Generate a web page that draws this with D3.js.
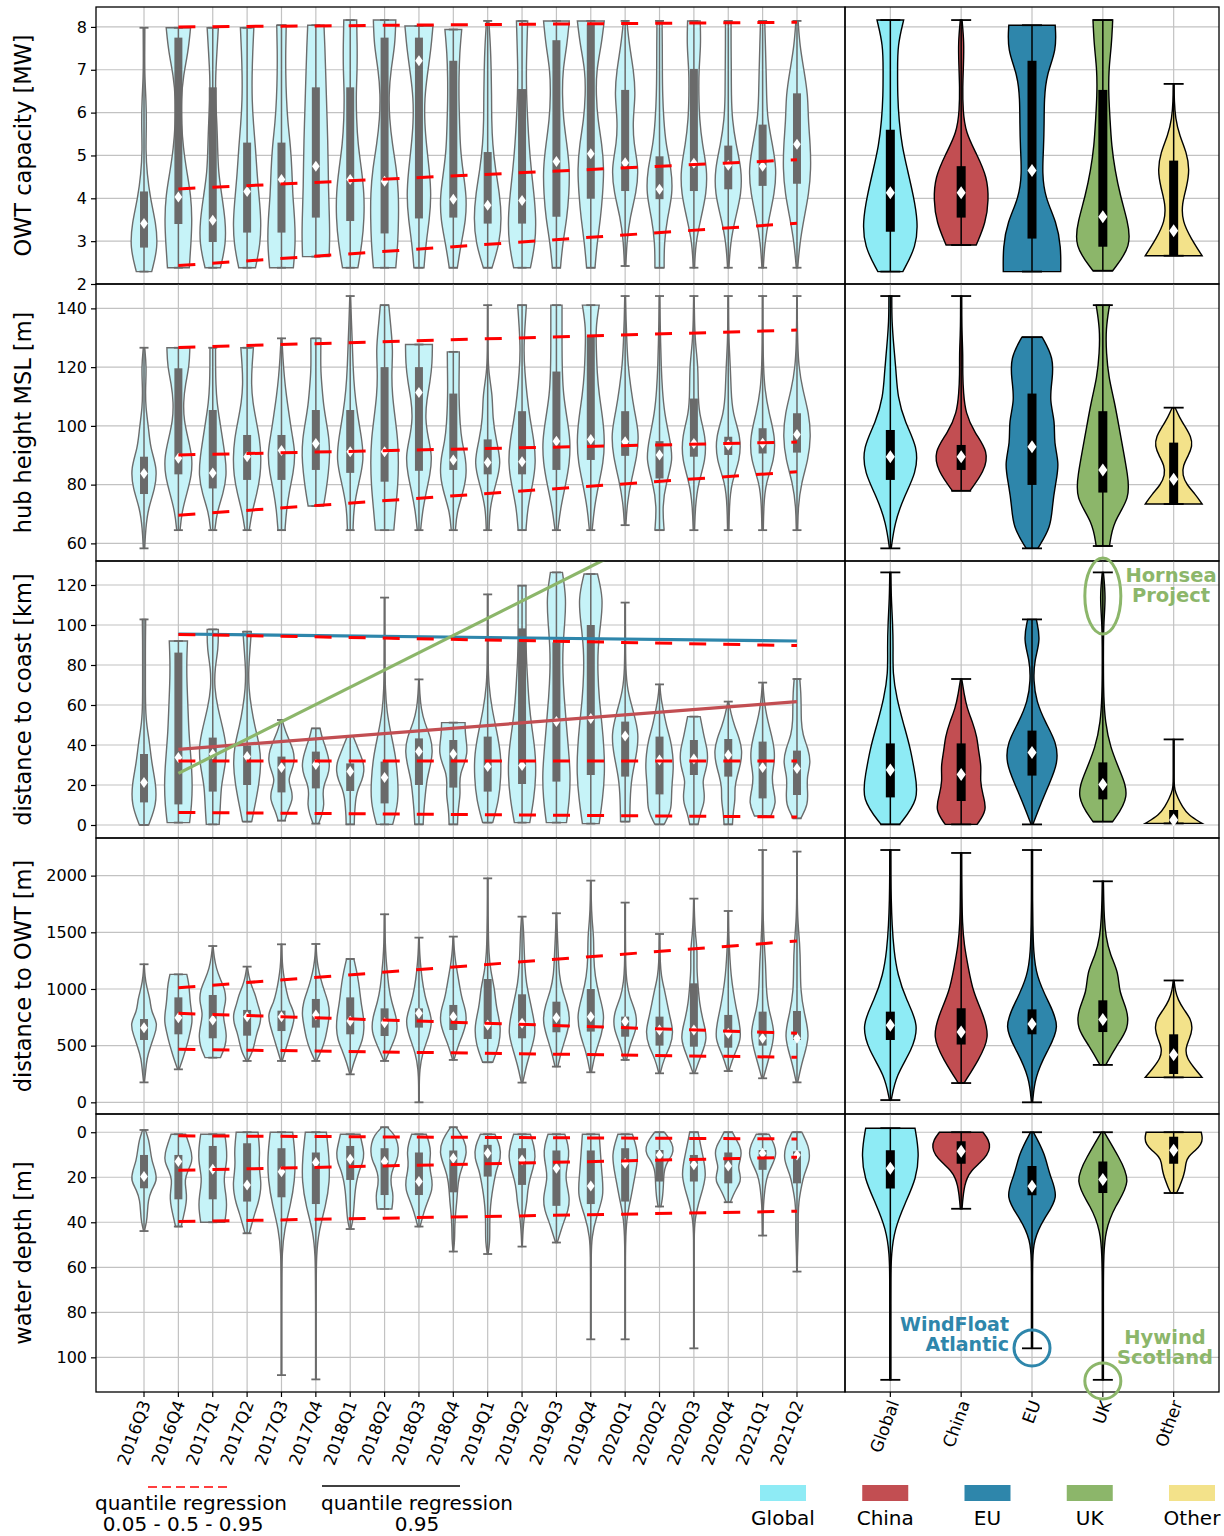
<!DOCTYPE html>
<html>
<head>
<meta charset="utf-8">
<script src="https://cdn.jsdelivr.net/npm/d3@7"></script>
<style>
  body { margin: 0; background: #fff; }
  svg { font-family: "DejaVu Sans", sans-serif; }
</style>
</head>
<body>
<svg id="chart" width="1224" height="1536"></svg>
<script>
// ---------------------------------------------------------------
// Categories
// ---------------------------------------------------------------
const quarters = ['2016Q3','2016Q4','2017Q1','2017Q2','2017Q3','2017Q4','2018Q1','2018Q2',
  '2018Q3','2018Q4','2019Q1','2019Q2','2019Q3','2019Q4','2020Q1','2020Q2','2020Q3','2020Q4',
  '2021Q1','2021Q2'];
const regions = ['Global','China','EU','UK','Other'];
const regionColors = ['#8eebf5','#c24e52','#2e86ab','#8cb66a','#f3e28a'];

// Each violin: [min, max, q1, median, q3, density profile sampled evenly from min to max]
const capacityByQuarter = [
  [2.29,7.98,2.85,3.41,4.16,[0.55,1.0,0.85,0.45,0.22,0.12,0.18,0.15,0.05,0.05,0.06]],
  [2.38,7.98,3.40,4.03,7.75,[0.78,0.9,0.98,0.9,0.6,0.35,0.22,0.2,0.35,0.7,0.87]],
  [2.38,7.98,2.98,3.49,6.59,[0.55,0.95,0.9,0.65,0.4,0.35,0.3,0.2,0.2,0.3,0.4]],
  [2.38,7.98,3.20,4.16,5.30,[0.6,0.95,1.0,0.85,0.7,0.6,0.45,0.35,0.35,0.4,0.48]],
  [2.38,8.04,3.20,4.44,5.30,[0.85,1.0,0.95,0.8,0.75,0.65,0.45,0.35,0.3,0.3,0.34]],
  [2.64,8.04,3.55,4.75,6.59,[0.95,1.0,0.95,0.9,0.88,0.85,0.8,0.75,0.7,0.65,0.58]],
  [2.38,8.16,3.47,4.44,6.59,[0.55,0.85,1.0,1.0,0.8,0.55,0.45,0.42,0.5,0.5,0.46]],
  [2.38,8.16,3.18,4.40,7.75,[0.8,0.95,1.0,1.0,0.85,0.55,0.35,0.3,0.45,0.75,0.8]],
  [2.38,8.02,3.53,7.21,7.75,[0.36,0.5,0.75,0.88,0.75,0.55,0.4,0.4,0.6,0.85,1.0]],
  [2.38,7.94,3.55,3.98,7.21,[0.29,0.55,0.9,0.95,0.7,0.5,0.45,0.4,0.4,0.45,0.6]],
  [2.38,8.14,3.41,3.84,5.08,[0.31,0.85,1.0,0.85,0.55,0.35,0.28,0.28,0.25,0.2,0.08]],
  [2.38,8.14,3.41,3.95,6.55,[0.6,0.95,1.0,0.85,0.65,0.5,0.4,0.32,0.3,0.35,0.4]],
  [2.38,8.14,3.57,4.86,7.69,[0.29,0.45,0.75,0.9,0.95,0.75,0.5,0.42,0.45,0.75,0.92]],
  [2.38,8.14,3.99,5.04,8.06,[0.3,0.45,0.7,0.85,0.95,0.8,0.5,0.38,0.4,0.75,0.96]],
  [2.42,8.14,4.17,4.83,6.53,[0.05,0.12,0.35,0.8,0.98,0.6,0.55,0.75,0.6,0.3,0.12]],
  [2.38,8.14,3.98,4.21,4.98,[0.33,0.33,0.55,0.95,0.85,0.45,0.3,0.22,0.2,0.2,0.18]],
  [2.38,8.14,4.17,4.82,7.02,[0.05,0.12,0.5,0.9,0.95,0.6,0.4,0.35,0.35,0.5,0.45]],
  [2.38,8.14,4.21,4.77,5.23,[0.05,0.15,0.5,0.95,0.95,0.55,0.28,0.22,0.22,0.2,0.2]],
  [2.38,8.14,4.29,4.75,5.72,[0.05,0.15,0.45,0.85,1.0,0.7,0.35,0.28,0.25,0.2,0.15]],
  [2.38,8.14,4.34,5.26,6.45,[0.05,0.2,0.5,0.85,1.0,0.95,0.8,0.78,0.5,0.2,0.08]]
];
const capacityByRegion = [
  [2.29,8.16,3.22,4.13,5.60,[0.43,0.9,0.95,0.8,0.6,0.4,0.3,0.25,0.25,0.25,0.46]],
  [2.91,8.16,3.55,4.13,4.75,[0.52,0.85,0.95,0.9,0.55,0.15,0.06,0.05,0.08,0.1,0.03]],
  [2.29,8.04,3.06,4.65,7.21,[0.99,1.0,0.85,0.45,0.35,0.4,0.42,0.42,0.5,0.85,0.8]],
  [2.31,8.16,2.87,3.57,6.53,[0.34,1.0,0.85,0.6,0.42,0.3,0.25,0.2,0.2,0.3,0.34]],
  [2.66,6.67,2.66,3.24,4.88,[0.98,0.6,0.3,0.28,0.45,0.55,0.45,0.2,0.06,0.02,0.0]]
];

const hubByQuarter = [
  [58.3,126.6,76.8,83.8,89.5,[0.05,0.12,0.3,0.8,0.95,0.45,0.33,0.12,0.1,0.18,0.05]],
  [64.5,126.6,83.5,89.0,119.6,[0.12,0.25,0.6,0.95,1.0,0.7,0.4,0.35,0.5,0.78,0.82]],
  [64.5,126.6,78.7,84.0,105.4,[0.15,0.3,0.75,1.0,0.9,0.7,0.5,0.3,0.22,0.2,0.2]],
  [64.5,126.6,81.6,89.5,96.9,[0.15,0.35,0.7,0.95,1.0,0.9,0.65,0.4,0.3,0.35,0.45]],
  [64.5,129.8,81.6,91.6,96.9,[0.25,0.35,0.55,0.85,1.0,0.75,0.55,0.35,0.2,0.1,0.03]],
  [72.7,129.8,85.0,94.0,105.4,[0.55,0.75,0.9,1.0,0.95,0.75,0.55,0.45,0.35,0.35,0.36]],
  [64.5,144.2,84.0,91.2,105.4,[0.2,0.25,0.6,1.0,0.8,0.5,0.3,0.2,0.15,0.08,0.03]],
  [64.5,141.1,81.0,91.2,120.0,[0.66,0.8,0.95,1.0,0.95,0.75,0.55,0.5,0.6,0.45,0.3]],
  [64.5,127.7,84.7,111.4,120.0,[0.12,0.25,0.5,0.8,0.95,0.65,0.45,0.55,0.8,0.95,0.96]],
  [64.5,125.2,85.0,88.4,111.0,[0.15,0.25,0.65,0.95,0.9,0.6,0.48,0.42,0.4,0.42,0.43]],
  [64.5,141.1,83.5,87.5,95.4,[0.1,0.15,0.55,1.0,0.6,0.35,0.35,0.06,0.02,0.02,0.01]],
  [64.5,141.1,83.5,87.8,105.0,[0.28,0.4,0.75,1.0,0.85,0.55,0.35,0.2,0.12,0.2,0.31]],
  [64.5,141.1,85.0,94.8,118.5,[0.1,0.3,0.65,0.95,1.0,0.75,0.5,0.42,0.4,0.4,0.4]],
  [64.5,141.1,88.4,95.4,130.6,[0.1,0.25,0.55,0.9,1.0,0.85,0.6,0.45,0.4,0.35,0.6]],
  [66.2,144.2,89.8,94.6,105.0,[0.05,0.15,0.45,0.85,1.0,0.65,0.4,0.2,0.12,0.06,0.03]],
  [64.5,144.2,82.1,90.1,94.8,[0.33,0.2,0.45,1.0,0.7,0.35,0.2,0.12,0.08,0.04,0.02]],
  [64.5,144.2,89.5,94.0,109.3,[0.05,0.1,0.3,0.85,0.85,0.35,0.3,0.3,0.1,0.04,0.02]],
  [64.5,144.2,90.1,93.5,96.3,[0.05,0.08,0.2,0.85,0.9,0.3,0.2,0.15,0.05,0.03,0.02]],
  [64.5,144.2,90.6,94.1,99.2,[0.05,0.08,0.2,0.85,0.9,0.45,0.15,0.06,0.03,0.02,0.02]],
  [64.5,144.2,90.9,97.1,104.3,[0.05,0.08,0.3,0.8,1.0,0.85,0.4,0.12,0.05,0.02,0.02]]
];
const hubByRegion = [
  [58.3,144.2,81.6,89.5,98.6,[0.03,0.15,0.45,0.9,0.95,0.5,0.25,0.2,0.12,0.05,0.05]],
  [77.9,144.2,85.0,89.5,93.5,[0.3,0.8,0.95,0.45,0.15,0.08,0.05,0.06,0.03,0.02,0.02]],
  [58.3,130.2,79.9,92.9,111.0,[0.2,0.65,0.7,0.8,0.95,0.75,0.8,0.6,0.7,0.75,0.35]],
  [59.1,141.1,77.3,85.0,105.0,[0.23,0.35,0.95,0.85,0.7,0.55,0.4,0.2,0.12,0.1,0.23]],
  [73.4,106.2,73.4,81.8,94.3,[0.98,0.75,0.45,0.3,0.32,0.5,0.65,0.6,0.4,0.2,0.05]]
];

const coastByQuarter = [
  [0,102.8,11.3,21.3,35.5,[0.33,0.9,0.85,0.55,0.4,0.15,0.1,0.1,0.1,0.1,0.12]],
  [1.2,92.0,10.3,33.8,86.2,[0.8,0.95,1.0,0.95,0.85,0.75,0.7,0.65,0.6,0.6,0.65]],
  [0.3,97.8,16.7,35.5,43.7,[0.46,0.55,0.6,0.9,1.0,0.7,0.35,0.12,0.15,0.4,0.4]],
  [1.7,96.7,20.0,34.2,39.7,[0.33,0.6,0.85,1.0,0.9,0.55,0.3,0.12,0.1,0.2,0.3]],
  [2.2,52.5,16.3,28.8,34.2,[0.24,0.45,0.8,0.75,0.45,0.75,0.95,0.85,0.55,0.25,0.05]],
  [0.7,48.3,18.3,30.3,36.7,[0.2,0.45,0.6,0.5,0.55,0.85,1.0,0.9,0.7,0.45,0.3]],
  [0.3,44.5,17.0,26.7,30.8,[0.29,0.3,0.35,0.4,0.55,0.85,1.0,0.95,0.7,0.45,0.2]],
  [0.3,113.7,10.8,23.7,31.7,[0.58,1.0,0.95,0.8,0.45,0.15,0.05,0.03,0.03,0.02,0.02]],
  [0.3,72.8,20.0,36.7,43.3,[0.3,0.35,0.45,0.55,0.8,1.0,0.85,0.4,0.15,0.06,0.02]],
  [0.3,51.2,18.7,35.5,42.5,[0.3,0.32,0.4,0.5,0.45,0.5,0.8,1.0,0.95,0.85,0.84]],
  [1.2,115.3,16.7,29.2,44.2,[0.36,0.8,0.95,0.95,0.65,0.3,0.08,0.03,0.03,0.02,0.02]],
  [1.2,119.7,20.5,29.7,98.3,[0.55,0.85,1.0,0.95,0.7,0.5,0.4,0.3,0.28,0.28,0.28]],
  [1.2,126.3,21.7,51.7,91.3,[0.72,0.95,1.0,0.85,0.7,0.55,0.45,0.45,0.6,0.7,0.43]],
  [0.7,125.5,25.0,53.3,100.0,[0.6,0.85,1.0,0.95,0.8,0.6,0.5,0.5,0.7,0.9,0.48]],
  [1.7,111.2,24.2,44.5,51.7,[0.33,0.35,0.45,0.8,1.0,0.6,0.15,0.04,0.03,0.02,0.02]],
  [0.3,70.3,15.3,32.5,44.2,[0.33,0.85,0.85,0.9,1.0,0.95,0.8,0.5,0.3,0.1,0.02]],
  [0.3,54.2,25.0,33.0,42.5,[0.3,0.45,0.75,0.75,0.6,0.85,1.0,0.95,0.75,0.6,0.45]],
  [0.3,61.7,24.2,35.0,43.0,[0.3,0.35,0.5,0.45,0.65,0.9,1.0,0.8,0.45,0.2,0.03]],
  [4.5,71.2,13.3,28.8,41.7,[0.58,1.0,0.75,0.65,0.85,0.85,0.65,0.4,0.2,0.08,0.02]],
  [3.3,73.0,15.0,28.3,37.2,[0.27,0.8,0.75,0.7,1.0,0.8,0.4,0.3,0.3,0.28,0.2]]
];
const coastByRegion = [
  [0.3,126.3,13.8,27.5,40.8,[0.32,1.0,0.85,0.7,0.45,0.22,0.08,0.1,0.08,0.03,0.02]],
  [0.3,73.0,12.0,25.3,40.8,[0.55,0.9,0.75,0.65,0.7,0.6,0.55,0.4,0.2,0.1,0.02]],
  [0.3,102.8,24.7,36.2,47.2,[0.03,0.3,0.6,0.9,0.85,0.45,0.15,0.05,0.08,0.3,0.15]],
  [1.7,126.3,12.8,20.3,31.3,[0.34,0.95,0.6,0.25,0.08,0.03,0.02,0.02,0.03,0.1,0.02]],
  [0.8,42.8,0.8,2.5,7.5,[0.98,0.5,0.3,0.15,0.03,0.01,0,0,0,0,0]]
];

const owtByQuarter = [
  [176,1218,550,659,735,[0.03,0.12,0.2,0.45,0.75,1.0,0.5,0.45,0.2,0.06,0.02]],
  [291,1129,600,747,926,[0.05,0.3,0.5,0.7,0.85,1.0,0.95,0.85,0.8,0.75,0.6]],
  [394,1379,565,726,947,[0.55,0.9,1.0,0.85,0.7,0.95,0.9,0.55,0.25,0.1,0.02]],
  [365,1197,588,756,815,[0.05,0.4,0.55,0.7,0.95,1.0,0.75,0.6,0.3,0.12,0.02]],
  [365,1394,629,756,809,[0.05,0.3,0.55,0.8,1.0,0.55,0.35,0.2,0.08,0.04,0.02]],
  [365,1397,659,771,912,[0.05,0.45,0.7,0.85,1.0,0.9,0.6,0.35,0.15,0.05,0.02]],
  [247,1265,600,718,926,[0.03,0.25,0.55,0.9,1.0,0.95,0.8,0.7,0.6,0.45,0.26]],
  [365,1659,585,703,829,[0.05,0.5,0.95,0.85,0.5,0.3,0.2,0.1,0.05,0.03,0.02]],
  [0,1453,659,785,829,[0.02,0.02,0.05,0.25,0.7,1.0,0.55,0.3,0.15,0.05,0.02]],
  [374,1462,638,756,859,[0.05,0.3,0.65,0.95,0.9,0.6,0.45,0.3,0.15,0.06,0.02]],
  [353,1976,559,682,1088,[0.36,0.85,0.95,0.6,0.5,0.2,0.08,0.05,0.03,0.02,0.02]],
  [174,1638,565,697,953,[0.05,0.3,0.65,1.0,0.8,0.55,0.3,0.2,0.15,0.12,0.04]],
  [315,1668,618,747,888,[0.1,0.35,0.7,1.0,0.8,0.4,0.2,0.15,0.1,0.05,0.02]],
  [265,1956,624,756,1000,[0.05,0.3,0.8,1.0,0.6,0.3,0.2,0.22,0.08,0.03,0.02]],
  [374,1762,579,712,756,[0.1,0.35,0.85,0.8,0.3,0.1,0.04,0.03,0.02,0.02,0.02]],
  [256,1485,500,638,756,[0.05,0.3,0.8,1.0,0.75,0.55,0.35,0.12,0.05,0.03,0.02]],
  [256,1797,491,638,1050,[0.05,0.5,1.0,0.65,0.4,0.3,0.2,0.25,0.1,0.04,0.02]],
  [276,1688,482,609,771,[0.05,0.4,0.95,0.8,0.55,0.35,0.2,0.12,0.06,0.03,0.02]],
  [212,2226,500,565,800,[0.05,0.5,0.95,0.4,0.25,0.22,0.1,0.04,0.02,0.02,0.02]],
  [176,2212,550,565,806,[0.05,0.4,0.95,0.5,0.25,0.25,0.2,0.05,0.02,0.02,0.02]]
];
const owtByRegion = [
  [20,2226,550,680,800,[0.03,0.2,0.75,1.0,0.55,0.25,0.12,0.06,0.03,0.02,0.02]],
  [170,2200,510,620,830,[0.1,0.6,1.0,0.75,0.4,0.25,0.1,0.04,0.03,0.02,0.02]],
  [0,2226,600,690,820,[0.02,0.1,0.5,1.0,0.55,0.15,0.05,0.03,0.02,0.02,0.02]],
  [330,1950,620,730,900,[0.1,0.45,0.9,0.85,0.55,0.55,0.25,0.1,0.05,0.03,0.02]],
  [220,1075,250,420,600,[0.98,0.7,0.45,0.4,0.55,0.65,0.6,0.35,0.15,0.05,0.0]]
];

const depthByQuarter = [
  [-1,43.9,10.1,19.7,24.9,[0.1,0.35,0.45,0.55,0.8,0.95,0.5,0.3,0.25,0.2,0.03]],
  [0.9,41.9,10.1,13.0,29.8,[0.52,0.75,0.95,1.0,0.65,0.45,0.55,0.6,0.5,0.35,0.2]],
  [0.9,40.0,6.1,16.4,29.8,[0.86,0.95,1.0,1.0,0.9,0.8,0.85,0.95,1.0,0.95,0.86]],
  [0,44.9,4.9,23.4,30.8,[0.78,0.85,0.9,0.85,0.9,1.0,0.95,0.8,0.55,0.35,0.15]],
  [0,107.9,7.1,17.5,28.9,[0.8,1.0,0.95,0.65,0.2,0.04,0.03,0.02,0.02,0.02,0.02]],
  [0,109.8,9.0,13.5,31.9,[0.75,0.95,1.0,0.7,0.2,0.04,0.03,0.02,0.02,0.02,0.02]],
  [0.9,43.0,6.1,12.0,21.2,[0.7,0.85,1.0,0.9,0.6,0.45,0.35,0.3,0.25,0.2,0.05]],
  [-2.2,34.1,7.1,13.0,27.9,[0.2,0.75,0.95,1.0,0.9,0.6,0.45,0.45,0.6,0.6,0.52]],
  [0.9,41.9,9.0,21.9,27.9,[0.52,0.75,0.85,0.75,0.8,0.95,0.95,0.7,0.45,0.25,0.08]],
  [-2.2,53.0,8.1,11.6,26.7,[0.2,0.8,1.0,0.7,0.4,0.3,0.25,0.15,0.1,0.1,0.02]],
  [0.9,54.1,5.6,9.3,19.7,[0.52,0.9,0.95,0.6,0.45,0.3,0.2,0.15,0.15,0.15,0.03]],
  [0.9,50.8,7.1,12.3,23.4,[0.6,0.85,0.97,0.8,0.55,0.4,0.35,0.2,0.1,0.05,0.02]],
  [0.9,49.0,8.1,16.0,32.7,[0.6,0.85,0.9,0.75,0.65,0.8,0.95,0.85,0.55,0.3,0.06]],
  [0.9,92.0,8.1,23.9,31.9,[0.6,0.7,0.8,0.95,0.4,0.06,0.03,0.02,0.02,0.02,0.02]],
  [0.9,92.0,7.1,13.8,30.8,[0.52,1.0,0.7,0.45,0.12,0.04,0.02,0.02,0.02,0.02,0.02]],
  [0,33.0,7.9,10.1,21.9,[0.35,0.75,1.0,0.95,0.55,0.35,0.3,0.28,0.25,0.2,0.1]],
  [0,96.0,10.1,14.5,21.9,[0.3,0.6,0.95,0.45,0.05,0.02,0.02,0.02,0.02,0.02,0.02]],
  [0,31.1,9.0,15.0,22.7,[0.3,0.55,0.85,0.95,0.85,0.7,0.85,0.9,0.6,0.35,0.15]],
  [0.9,45.9,7.9,9.3,16.7,[0.45,0.85,1.0,0.7,0.35,0.2,0.12,0.06,0.04,0.03,0.02]],
  [0,61.9,8.5,10.1,22.7,[0.35,0.85,0.95,0.5,0.3,0.12,0.08,0.1,0.06,0.03,0.02]]
];
const depthByRegion = [
  [-1.8,110,8,16,25,[0.85,1.0,0.9,0.5,0.15,0.03,0.02,0.02,0.02,0.02,0.02]],
  [0,34,4,8.5,14,[0.75,0.95,1.0,0.9,0.65,0.35,0.2,0.12,0.08,0.05,0.03]],
  [0,96,15,24,28,[0.05,0.45,0.6,0.95,0.4,0.05,0.02,0.02,0.02,0.02,0.02]],
  [0,110,13,21,27,[0.05,0.55,1.0,0.4,0.08,0.03,0.02,0.02,0.02,0.02,0.02]],
  [0,27,2,8,14,[0.95,1.0,0.95,0.75,0.5,0.42,0.4,0.35,0.28,0.2,0.1]]
];

// Quantile regression lines (0.05, 0.5, 0.95): value at 2016Q4 and at 2021Q2
const capacityTrend = [[2.43,3.42],[4.22,4.90],[8.00,8.11]];
const hubTrend = [[69.6,84.4],[90.1,94.5],[126.7,132.6]];
const coastTrend = [[6.3,4.0],[32.0,32.0],[95.3,89.7]];
const owtTrend = [[468,397],[785,609],[1011,1423]];
const depthTrend = [[1.6,3.0],[16.9,11.1],[39.7,35.1]];
// 0.95 quantile regression per region for distance to coast: [region, 2016Q4, 2021Q2]
const coastRegionTrend = [['EU',95.5,92.0],['China',37.8,61.7],['UK',25.8,181.0]];

// Tick values
const capacityTicks = [2,3,4,5,6,7,8];
const hubTicks = [60,80,100,120,140];
const coastTicks = [0,20,40,60,80,100,120];
const owtTicks = [0,500,1000,1500,2000];
const depthTicks = [0,20,40,60,80,100];

// ---------------------------------------------------------------
// Layout
// ---------------------------------------------------------------
const svg = d3.select('#chart');
const X0 = 96, X1 = 845, X2 = 1219;
const xQ = d3.scalePoint().domain(quarters).range([X0, X1]).padding(1.397);
const xR = d3.scalePoint().domain(regions).range([X1, X2]).padding(0.64);

const rows = [
  {top:7, bottom:284, domain:[2,8.465], ticks:capacityTicks, label:'OWT capacity [MW]',
   q:capacityByQuarter, r:capacityByRegion, trend:capacityTrend},
  {top:284, bottom:561, domain:[54,148.3], ticks:hubTicks, label:'hub height MSL [m]',
   q:hubByQuarter, r:hubByRegion, trend:hubTrend},
  {top:561, bottom:838, domain:[-6.5,132], ticks:coastTicks, label:'distance to coast [km]',
   q:coastByQuarter, r:coastByRegion, trend:coastTrend},
  {top:838, bottom:1114, domain:[-103,2332], ticks:owtTicks, label:'distance to OWT [m]',
   q:owtByQuarter, r:owtByRegion, trend:owtTrend},
  {top:1114, bottom:1392, domain:[-8.1,115.4], ticks:depthTicks, label:'water depth [m]',
   q:depthByQuarter, r:depthByRegion, trend:depthTrend, invert:true}
];

const GRID = '#c2c2c2';
const defs = svg.append('defs');

function violinArea(cx, half, y, d) {
  const [lo, hi, , , , prof] = d;
  const n = prof.length;
  const pts = prof.map((w, i) => ({ v: lo + (hi - lo) * i / (n - 1), w: Math.max(w, 0.015) }));
  return d3.area().curve(d3.curveBasis)
    .y(p => y(p.v)).x0(p => cx - p.w * half).x1(p => cx + p.w * half)(pts);
}

function drawViolin(g, cx, y, d, st) {
  const [lo, hi, q1, med, q3] = d;
  g.append('path').attr('d', violinArea(cx, st.half, y, d))
    .attr('fill', st.fill).attr('stroke', st.edge).attr('stroke-width', 1.4);
  g.append('line').attr('x1', cx).attr('x2', cx).attr('y1', y(lo)).attr('y2', y(hi))
    .attr('stroke', st.line).attr('stroke-width', 1.5);
  [lo, hi].forEach(v => g.append('line')
    .attr('x1', cx - st.cap).attr('x2', cx + st.cap).attr('y1', y(v)).attr('y2', y(v))
    .attr('stroke', st.line).attr('stroke-width', 1.8));
  const yA = y(q1), yB = y(q3);
  g.append('rect').attr('x', cx - st.box / 2).attr('width', st.box)
    .attr('y', Math.min(yA, yB)).attr('height', Math.abs(yA - yB))
    .attr('fill', st.boxFill);
  const ym = y(med);
  g.append('path')
    .attr('d', `M${cx},${ym - st.dia} L${cx + st.dia * 0.7},${ym} L${cx},${ym + st.dia} L${cx - st.dia * 0.7},${ym} Z`)
    .attr('fill', '#fff');
}

rows.forEach((row, ri) => {
  const y = d3.scaleLinear().domain(row.domain)
    .range(row.invert ? [row.top, row.bottom] : [row.bottom, row.top]);
  const g = svg.append('g');

  const clipId = 'clip' + ri;
  defs.append('clipPath').attr('id', clipId).append('rect')
    .attr('x', X0).attr('y', row.top).attr('width', X1 - X0).attr('height', row.bottom - row.top);

  // grid
  const grid = g.append('g').attr('stroke', GRID).attr('stroke-width', 1.2);
  row.ticks.forEach(t => {
    grid.append('line').attr('x1', X0).attr('x2', X2).attr('y1', y(t)).attr('y2', y(t));
  });
  quarters.forEach(q => grid.append('line').attr('x1', xQ(q)).attr('x2', xQ(q))
    .attr('y1', row.top).attr('y2', row.bottom));
  regions.forEach(r => grid.append('line').attr('x1', xR(r)).attr('x2', xR(r))
    .attr('y1', row.top).attr('y2', row.bottom));

  // quarterly violins
  const leftStyle = { half: 14, fill: '#c6f3f8', edge: '#6c6c6c', line: '#6a6a6a',
    boxFill: '#6a6a6a', box: 8, cap: 4.5, dia: 5.5 };
  const gl = g.append('g').attr('clip-path', `url(#${clipId})`);
  row.q.forEach((d, i) => drawViolin(gl, xQ(quarters[i]), y, d, leftStyle));

  // regional violins
  row.r.forEach((d, i) => drawViolin(g, xR(regions[i]), y, d,
    { half: 29, fill: regionColors[i], edge: '#000', line: '#000', boxFill: '#000',
      box: 9, cap: 10, dia: 6.5 }));

  // regional 0.95 regression lines (distance to coast)
  if (ri === 2) {
    const lc = { EU: regionColors[2], China: regionColors[1], UK: regionColors[3] };
    coastRegionTrend.forEach(([name, a, b]) => {
      gl.append('line').attr('x1', xQ(quarters[1])).attr('x2', xQ(quarters[19]))
        .attr('y1', y(a)).attr('y2', y(b))
        .attr('stroke', lc[name]).attr('stroke-width', 3.2);
    });
  }

  // quantile regression (dashed red)
  row.trend.forEach(([a, b]) => {
    gl.append('line').attr('x1', xQ(quarters[1])).attr('x2', xQ(quarters[19]))
      .attr('y1', y(a)).attr('y2', y(b))
      .attr('stroke', '#ff0000').attr('stroke-width', 3)
      .attr('stroke-dasharray', '17,17.06');
  });

  // frames
  g.append('rect').attr('x', X0).attr('y', row.top).attr('width', X1 - X0)
    .attr('height', row.bottom - row.top).attr('fill', 'none').attr('stroke', '#000').attr('stroke-width', 1.3);
  g.append('rect').attr('x', X1).attr('y', row.top).attr('width', X2 - X1)
    .attr('height', row.bottom - row.top).attr('fill', 'none').attr('stroke', '#000').attr('stroke-width', 1.3);

  // y axis
  const ax = g.append('g').attr('transform', `translate(${X0},0)`)
    .call(d3.axisLeft(y).tickValues(row.ticks).tickSize(5).tickPadding(4).tickFormat(d3.format('d')));
  ax.select('.domain').remove();
  ax.selectAll('text').attr('font-size', 16).attr('font-family', '"DejaVu Sans", sans-serif').attr('fill', '#000');
  ax.selectAll('line').attr('stroke', '#000').attr('stroke-width', 1.2);

  svg.append('text').attr('transform', `translate(31,${(row.top + row.bottom) / 2}) rotate(-90)`)
    .attr('text-anchor', 'middle').attr('font-size', 22.5).text(row.label);
});

// x tick marks and rotated labels
const yAxisBottom = 1392;
quarters.forEach(q => {
  svg.append('line').attr('x1', xQ(q)).attr('x2', xQ(q)).attr('y1', yAxisBottom).attr('y2', yAxisBottom + 5)
    .attr('stroke', '#000').attr('stroke-width', 1.2);
  svg.append('text').attr('transform', `translate(${xQ(q) + 7},${yAxisBottom + 11}) rotate(-70)`)
    .attr('text-anchor', 'end').attr('font-size', 17).text(q);
});
regions.forEach(r => {
  svg.append('line').attr('x1', xR(r)).attr('x2', xR(r)).attr('y1', yAxisBottom).attr('y2', yAxisBottom + 5)
    .attr('stroke', '#000').attr('stroke-width', 1.2);
  svg.append('text').attr('transform', `translate(${xR(r) + 9},${yAxisBottom + 11}) rotate(-70)`)
    .attr('text-anchor', 'end').attr('font-size', 17).text(r);
});

// annotations
const green = regionColors[3], blue = regionColors[2];
svg.append('ellipse').attr('cx', xR('UK')).attr('cy', 596).attr('rx', 18).attr('ry', 38)
  .attr('fill', 'none').attr('stroke', green).attr('stroke-width', 3);
[['Hornsea', 582], ['Project', 602]].forEach(([t, yy]) =>
  svg.append('text').attr('x', 1171).attr('y', yy).attr('text-anchor', 'middle')
    .attr('font-size', 19.5).attr('font-weight', 'bold').attr('fill', green).text(t));
svg.append('circle').attr('cx', xR('EU')).attr('cy', 1348).attr('r', 18)
  .attr('fill', 'none').attr('stroke', blue).attr('stroke-width', 3);
[['WindFloat', 1331], ['Atlantic', 1351]].forEach(([t, yy]) =>
  svg.append('text').attr('x', 1009).attr('y', yy).attr('text-anchor', 'end')
    .attr('font-size', 19).attr('font-weight', 'bold').attr('fill', blue).text(t));
svg.append('circle').attr('cx', xR('UK')).attr('cy', 1381).attr('r', 18)
  .attr('fill', 'none').attr('stroke', green).attr('stroke-width', 3);
[['Hywind', 1344], ['Scotland', 1364]].forEach(([t, yy]) =>
  svg.append('text').attr('x', 1165).attr('y', yy).attr('text-anchor', 'middle')
    .attr('font-size', 19.5).attr('font-weight', 'bold').attr('fill', green).text(t));

// legends
const lg = svg.append('g');
lg.append('line').attr('x1', 148).attr('x2', 232).attr('y1', 1487).attr('y2', 1487)
  .attr('stroke', '#ff0000').attr('stroke-width', 1.5).attr('stroke-dasharray', '9,5');
lg.append('text').attr('x', 191).attr('y', 1510).attr('text-anchor', 'middle').attr('font-size', 20).text('quantile regression');
lg.append('text').attr('x', 183).attr('y', 1531).attr('text-anchor', 'middle').attr('font-size', 20).text('0.05 - 0.5 - 0.95');
lg.append('line').attr('x1', 322).attr('x2', 460).attr('y1', 1486).attr('y2', 1486)
  .attr('stroke', '#000').attr('stroke-width', 1.5);
lg.append('text').attr('x', 417).attr('y', 1510).attr('text-anchor', 'middle').attr('font-size', 20).text('quantile regression');
lg.append('text').attr('x', 417).attr('y', 1531).attr('text-anchor', 'middle').attr('font-size', 20).text('0.95');

const legendX = d3.scalePoint().domain(regions).range([783, 1192]);
regions.forEach((r, i) => {
  lg.append('rect').attr('x', legendX(r) - 23).attr('y', 1485).attr('width', 46).attr('height', 16)
    .attr('fill', regionColors[i]);
  lg.append('text').attr('x', legendX(r)).attr('y', 1525).attr('text-anchor', 'middle')
    .attr('font-size', 20).text(r);
});
</script>
</body>
</html>
